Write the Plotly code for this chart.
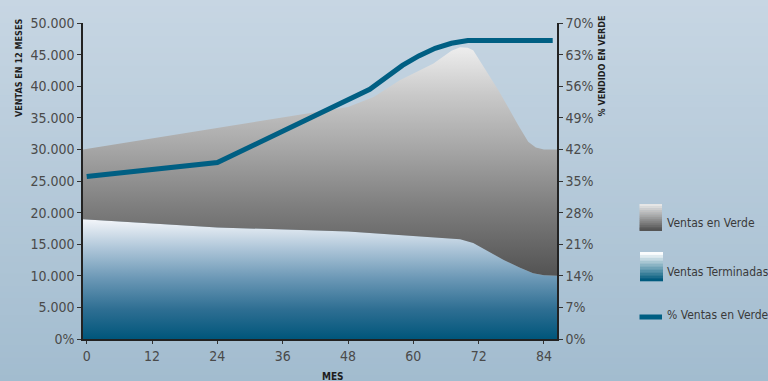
import plotly.graph_objects as go

# ---------------- data ----------------
months_verde = [-0.7, 24, 48, 52.7, 57.5, 63.7, 67, 68.6, 70, 71, 75.6, 79.3, 81.1, 82.5, 84, 86.4]
total_ventas = [30000, 33400, 36700, 38300, 40950, 43600, 45600, 46150, 46100, 45700, 39400, 33800, 31200, 30300, 30000, 30000]

months_term = [-0.7, 24, 48, 60, 68.6, 71, 73.5, 76.6, 79.5, 82, 84, 86.4]
ventas_terminadas = [18950, 17650, 17000, 16300, 15800, 15200, 14000, 12500, 11300, 10400, 10100, 10000]

months_pct = [0, 24, 52, 55, 58, 61, 64, 67, 70, 85.6]
pct_verde = [36.0, 39.1, 55.3, 58.0, 60.6, 62.7, 64.4, 65.5, 66.1, 66.1]

x_ticks = [0, 12, 24, 36, 48, 60, 72, 84]
y_ticks = [0, 5000, 10000, 15000, 20000, 25000, 30000, 35000, 40000, 45000, 50000]
y_ticktext = ["0%", "5.000", "10.000", "15.000", "20.000", "25.000", "30.000",
              "35.000", "40.000", "45.000", "50.000"]
y2_ticks = [0, 7, 14, 21, 28, 35, 42, 49, 56, 63, 70]
y2_ticktext = [f"{v}%" for v in y2_ticks]

FONT = "DejaVu Sans Condensed, DejaVu Sans, sans-serif"
TICKC = "#4a4a4a"
LINEC = "#005f83"

fig = go.Figure()

fig.add_trace(go.Scatter(
    x=months_term, y=ventas_terminadas, mode="lines", line=dict(width=0),
    fill="tozeroy", name="Ventas Terminadas", showlegend=False,
    fillgradient=dict(type="vertical", start=0, stop=19000,
                      colorscale=[[0, "#00567b"], [0.25, "#2f6f93"], [0.5, "#6a97b5"],
                                  [0.75, "#adc5d8"], [1, "#f4f6fa"]]),
))
fig.add_trace(go.Scatter(
    x=months_verde, y=total_ventas, mode="lines", line=dict(width=0),
    fill="tonexty", name="Ventas en Verde", showlegend=False,
    fillgradient=dict(type="vertical", start=10000, stop=46500,
                      colorscale=[[0, "#535353"], [0.3, "#7e7e7e"], [0.55, "#a6a6a6"],
                                  [0.78, "#c8c8c8"], [1, "#efefef"]]),
))
fig.add_trace(go.Scatter(
    x=months_pct, y=pct_verde, mode="lines", yaxis="y2",
    line=dict(color=LINEC, width=5), name="% Ventas en Verde", showlegend=False,
))

# ---------------- background gradient ----------------
W, H = 768, 381
ml, mr, mt, mb = 83, 211, 23, 42
pw, ph = W - ml - mr, H - mt - mb
top_c = (199, 214, 227)
bot_c = (162, 188, 207)
shapes = []
N = 64
for i in range(N):
    p0 = i * H / N
    p1 = (i + 1) * H / N + 0.6
    t = (i + 0.5) / N
    c = tuple(round(top_c[k] + (bot_c[k] - top_c[k]) * t) for k in range(3))
    shapes.append(dict(type="rect", xref="paper", yref="paper", layer="below",
                       x0=-ml / pw - 0.01, x1=1 + mr / pw + 0.01,
                       y0=(H - mb - p1) / ph, y1=(H - mb - p0) / ph,
                       line=dict(width=0), fillcolor="rgb(%d,%d,%d)" % c))

# ---------------- custom legend ----------------
def px_x(px):
    return (px - ml) / pw

def px_y(py):
    return (H - mb - py) / ph

def grad_box(x0, x1, y0, y1, cols, n=12):
    out = []
    for i in range(n):
        t = i / (n - 1)
        a = cols[0]
        b = cols[1]
        c = tuple(round(a[k] + (b[k] - a[k]) * t) for k in range(3))
        ya = y0 + (y1 - y0) * i / n
        yb = y0 + (y1 - y0) * (i + 1) / n
        out.append(dict(type="rect", xref="paper", yref="paper", layer="above",
                        x0=px_x(x0), x1=px_x(x1), y0=px_y(ya), y1=px_y(yb + 0.3),
                        line=dict(width=0), fillcolor="rgb(%d,%d,%d)" % c))
    return out

shapes += grad_box(639.5, 662, 204, 229, [(230, 230, 230), (95, 95, 95)])
shapes.append(dict(type="rect", xref="paper", yref="paper", layer="above",
                   x0=px_x(639.5), x1=px_x(662), y0=px_y(231), y1=px_y(228.5),
                   line=dict(width=0), fillcolor="#555555"))
shapes += grad_box(640, 663, 252, 281, [(250, 252, 253), (0, 90, 125)], n=10)
shapes.append(dict(type="line", xref="paper", yref="paper",
                   x0=px_x(639.5), x1=px_x(662), y0=px_y(317), y1=px_y(317),
                   line=dict(color=LINEC, width=5)))

annotations = []
for txt, yy in [("Ventas en Verde", 223), ("Ventas Terminadas", 272), ("% Ventas en Verde", 315)]:
    annotations.append(dict(text=txt, xref="paper", yref="paper", x=px_x(665), y=px_y(yy),
                            xanchor="left", yanchor="middle", showarrow=False,
                            font=dict(family=FONT, size=12, color="#3a3a3a")))

annotations.append(dict(text="<b>VENTAS EN 12 MESES</b>", xref="paper", yref="paper",
                        x=px_x(19), y=px_y(17), xanchor="center", yanchor="top",
                        textangle=-90, showarrow=False,
                        font=dict(family=FONT, size=9, color="#1e1e1e")))
annotations.append(dict(text="<b>% VENDIDO EN VERDE</b>", xref="paper", yref="paper",
                        x=px_x(601), y=px_y(14), xanchor="center", yanchor="top",
                        textangle=-90, showarrow=False,
                        font=dict(family=FONT, size=9, color="#1e1e1e")))
annotations.append(dict(text="<b>MES</b>", xref="paper", yref="paper",
                        x=px_x(333), y=px_y(376), xanchor="center", yanchor="middle",
                        showarrow=False,
                        font=dict(family=FONT, size=10, color="#1e1e1e")))

fig.update_layout(
    width=W, height=H,
    margin=dict(l=ml, r=mr, t=mt, b=mb, pad=0),
    paper_bgcolor="rgb(180,200,217)",
    plot_bgcolor="rgba(0,0,0,0)",
    showlegend=False,
    font=dict(family=FONT, size=14, color=TICKC),
    shapes=shapes,
    annotations=annotations,
    xaxis=dict(range=[-0.68, 86.39], tickvals=x_ticks, ticks="outside", ticklen=3,
               tickcolor="#333", showline=True, linecolor="#222", linewidth=1.5,
               showgrid=False, zeroline=False, tickfont=dict(size=14, color=TICKC)),
    yaxis=dict(range=[0, 50000], tickvals=y_ticks, ticktext=y_ticktext, ticks="outside",
               ticklen=4, tickcolor="#333", showline=True, linecolor="#222", linewidth=1.5,
               showgrid=False, zeroline=False, tickfont=dict(size=14, color=TICKC)),
    yaxis2=dict(range=[0, 70], tickvals=y2_ticks, ticktext=y2_ticktext, overlaying="y",
                side="right", ticks="outside", ticklen=4, tickcolor="#333", showline=True,
                linecolor="#222", linewidth=1.5, showgrid=False, zeroline=False,
                tickfont=dict(size=14, color=TICKC)),
)

fig.write_html("out.html")
